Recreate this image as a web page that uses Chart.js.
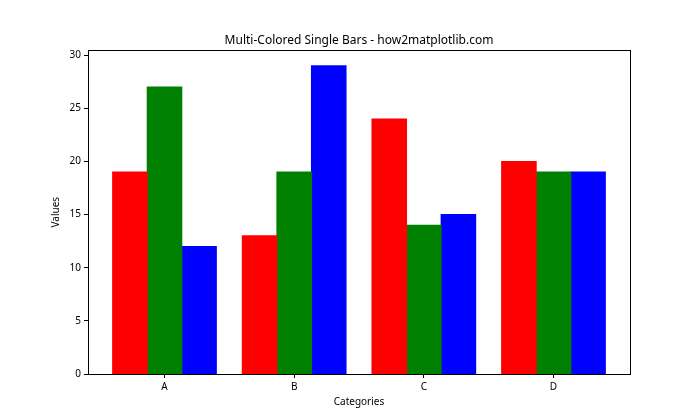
<!DOCTYPE html>
<html>
<head>
<meta charset="utf-8">
<script src="https://cdn.jsdelivr.net/npm/chart.js@4"></script>
<style>
  html, body { margin: 0; padding: 0; background: #fff; }
  #wrap { width: 700px; height: 420px; }
</style>
</head>
<body>
<div id="wrap"><canvas id="chart" width="700" height="420"></canvas></div>
<script>
const categories = ["A", "B", "C", "D"];
const seriesNames = ["Red", "Green", "Blue"];
const redValues = [19, 13, 24, 20];
const greenValues = [27, 19, 14, 19];
const blueValues = [12, 29, 15, 19];
const yTicks = [0, 5, 10, 15, 20, 25, 30];

const font = "'Noto Sans', 'DejaVu Sans', sans-serif";

function toPoints(values) {
  return values.map((v, i) => ({ x: i, y: v }));
}

// draw the box around the plot area like matplotlib does
const frame = {
  id: "frame",
  afterDraw(chart) {
    const { ctx, chartArea: a } = chart;
    ctx.save();
    ctx.strokeStyle = "#000";
    ctx.lineWidth = 1;
    ctx.strokeRect(Math.round(a.left) + 0.5, Math.round(a.top) + 0.5,
      Math.round(a.right - a.left), Math.round(a.bottom - a.top));
    ctx.restore();
  }
};

const ctx = document.getElementById("chart").getContext("2d");
new Chart(ctx, {
  type: "bar",
  data: {
    datasets: [
      { label: seriesNames[0], data: toPoints(redValues), backgroundColor: "#ff0000" },
      { label: seriesNames[1], data: toPoints(greenValues), backgroundColor: "#008000" },
      { label: seriesNames[2], data: toPoints(blueValues), backgroundColor: "#0000ff" }
    ]
  },
  options: {
    responsive: false,
    animation: false,
    devicePixelRatio: 1,
    layout: { padding: { left: 0, right: 70, top: 0, bottom: 0 } },
    datasets: { bar: { categoryPercentage: 0.8, barPercentage: 1.0, borderWidth: 0, inflateAmount: 0.5 } },
    plugins: {
      legend: { display: false },
      tooltip: { enabled: false },
      title: {
        display: true,
        fullSize: false,
        text: "Multi-Colored Single Bars - how2matplotlib.com",
        color: "#000",
        font: { family: font, size: 12, weight: "normal", lineHeight: 1.2 },
        padding: { top: 33, bottom: 3 }
      }
    },
    scales: {
      x: {
        type: "linear",
        offset: false,
        min: -0.59,
        max: 3.59,
        afterBuildTicks: axis => { axis.ticks = categories.map((c, i) => ({ value: i })); },
        afterFit: axis => { axis.height = 46; },
        ticks: {
          color: "#000",
          font: { family: font, size: 10 },
          padding: 3,
          maxRotation: 0,
          callback: v => categories[v]
        },
        grid: { offset: false, drawOnChartArea: false, tickLength: 4, color: "#000" },
        border: { display: true, color: "#000" },
        title: {
          display: true,
          text: "Categories",
          color: "#000",
          font: { family: font, size: 10 },
          padding: { top: 0, bottom: 12 }
        }
      },
      y: {
        min: 0,
        max: 30.45,
        afterBuildTicks: axis => { axis.ticks = yTicks.map(v => ({ value: v })); },
        afterFit: axis => { axis.width = 88; },
        ticks: { color: "#000", font: { family: font, size: 10 }, padding: 3 },
        grid: { drawOnChartArea: false, tickLength: 4, color: "#000" },
        border: { display: true, color: "#000" },
        title: {
          display: true,
          text: "Values",
          color: "#000",
          font: { family: font, size: 10 },
          padding: { top: 50, bottom: 0 }
        }
      }
    }
  },
  plugins: [frame]
});
</script>
</body>
</html>
